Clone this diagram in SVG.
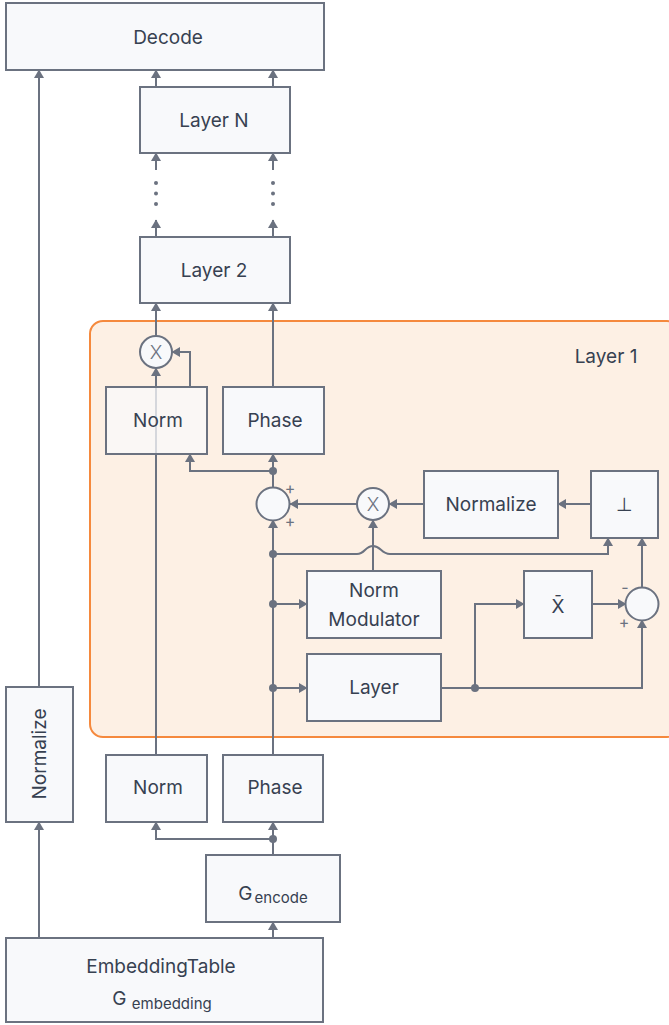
<svg xmlns="http://www.w3.org/2000/svg" width="669" height="1025" viewBox="0 0 669 1025">
<defs>
<marker id="arr" markerUnits="userSpaceOnUse" markerWidth="10" markerHeight="10" refX="8" refY="5" orient="auto">
<path d="M0,0 L8.5,5 L0,10 z" fill="#6b7280"/>
</marker>
<style>
.box{fill:#f8f9fb;stroke:#6b7280;stroke-width:2}
.circ{fill:#f8f9fb;stroke:#6b7280;stroke-width:2}
.t{font-family:Inter,"Liberation Sans",sans-serif;font-size:19px;fill:#374151;text-anchor:middle;dominant-baseline:central}
.s{font-family:Inter,"Liberation Sans",sans-serif;font-size:16px;fill:#6b7280;text-anchor:middle;dominant-baseline:central}
.x{font-family:Inter,"Liberation Sans",sans-serif;font-size:19px;font-weight:300;fill:#6b7280;text-anchor:middle;dominant-baseline:central}
.c{fill:none;stroke:#6b7280;stroke-width:2}
.a{marker-end:url(#arr)}
.dot{fill:#6b7280}
</style>
</defs>
<rect width="669" height="1025" fill="#ffffff"/>

<g id="layer1">
<rect x="90" y="321" width="590" height="416" rx="13" fill="#fdf0e4" stroke="#f5893d" stroke-width="2"/>
<text class="t" x="606" y="356">Layer 1</text>
</g>

<g id="connectors">
<path class="c a" d="M39,938 L39,822"/>
<path class="c a" d="M39,687 L39,70"/>
<path class="c a" d="M273,938 L273,922"/>
<path class="c a" d="M273,855 L273,822"/>
<path class="c a" d="M273,839 L156,839 L156,822"/>
<path class="c a" d="M156,755 L156,368"/>
<path class="c a" d="M273,755 L273,520"/>
<path class="c a" d="M273,688 L307,688"/>
<path class="c a" d="M273,604 L307,604"/>
<path class="c a" d="M273,554 L357,554 C365,554 365,546 373,546 C381,546 381,554 390,554 L608,554 L608,538"/>
<path class="c a" d="M373,571 L373,520"/>
<path class="c a" d="M441,688 L642,688 L642,620"/>
<path class="c a" d="M475,688 L475,604 L524,604"/>
<path class="c a" d="M592,604 L626,604"/>
<path class="c a" d="M642,588 L642,538"/>
<path class="c a" d="M591,504 L558,504"/>
<path class="c a" d="M424,504 L389,504"/>
<path class="c a" d="M357,504 L290,504"/>
<path class="c a" d="M273,487 L273,454"/>
<path class="c a" d="M273,471 L190,471 L190,454"/>
<path class="c a" d="M190,387 L190,352 L172,352"/>
<path class="c a" d="M156,336 L156,303"/>
<path class="c a" d="M273,387 L273,303"/>
<path class="c a" d="M156,237 L156,220"/>
<path class="c a" d="M273,237 L273,220"/>
<path class="c a" d="M156,170 L156,153"/>
<path class="c a" d="M273,170 L273,153"/>
<path class="c a" d="M156,87 L156,70"/>
<path class="c a" d="M273,87 L273,70"/>
<circle class="dot" cx="273" cy="839" r="4"/>
<circle class="dot" cx="273" cy="688" r="4"/>
<circle class="dot" cx="273" cy="604" r="4"/>
<circle class="dot" cx="273" cy="554" r="4"/>
<circle class="dot" cx="273" cy="471" r="4"/>
<circle class="dot" cx="475" cy="688" r="4"/>
<circle class="dot" cx="156" cy="183" r="2"/>
<circle class="dot" cx="156" cy="193.5" r="2"/>
<circle class="dot" cx="156" cy="204" r="2"/>
<circle class="dot" cx="273" cy="183" r="2"/>
<circle class="dot" cx="273" cy="193.5" r="2"/>
<circle class="dot" cx="273" cy="204" r="2"/>
</g>

<g id="decode"><rect class="box" x="6" y="3" width="318" height="67"/><text class="t" x="168" y="37">Decode</text></g>
<g id="layerN"><rect class="box" x="140" y="87" width="150" height="66"/><text class="t" x="214" y="120">Layer N</text></g>
<g id="layer2"><rect class="box" x="140" y="237" width="150" height="66"/><text class="t" x="214" y="270">Layer 2</text></g>

<g id="mul-top"><circle class="circ" cx="156" cy="352" r="16"/><text class="x" x="156" y="352">X</text></g>
<g id="norm-top"><rect class="box" x="106" y="387" width="101" height="67" fill-opacity="0.75"/><text class="t" x="158" y="420">Norm</text></g>
<g id="phase-top"><rect class="box" x="223" y="387" width="101" height="67"/><text class="t" x="275" y="420">Phase</text></g>

<g id="sum-top"><circle class="circ" cx="273" cy="504" r="16.5"/><text class="s" x="290" y="488">+</text><text class="s" x="290" y="521">+</text></g>
<g id="mul-mid"><circle class="circ" cx="373" cy="504" r="16"/><text class="x" x="373" y="504">X</text></g>
<g id="normalize-inner"><rect class="box" x="424" y="471" width="134" height="67"/><text class="t" x="491" y="504">Normalize</text></g>
<g id="perp"><rect class="box" x="591" y="471" width="67" height="67"/><text class="t" x="624" y="504">⊥</text></g>
<g id="norm-modulator"><rect class="box" x="307" y="571" width="134" height="67"/><text class="t" x="374" y="590">Norm</text><text class="t" x="374" y="619">Modulator</text></g>
<g id="xbar"><rect class="box" x="524" y="571" width="68" height="67"/><text class="t" x="558" y="606">X̄</text></g>
<g id="sum-right"><circle class="circ" cx="642" cy="604" r="16.5"/><text class="s" x="625" y="587">-</text><text class="s" x="624" y="622">+</text></g>
<g id="layer"><rect class="box" x="307" y="654" width="134" height="67"/><text class="t" x="374" y="687">Layer</text></g>

<g id="norm-bottom"><rect class="box" x="106" y="755" width="101" height="67"/><text class="t" x="158" y="787">Norm</text></g>
<g id="phase-bottom"><rect class="box" x="223" y="755" width="100" height="67"/><text class="t" x="275" y="787">Phase</text></g>
<g id="normalize-left"><rect class="box" x="6" y="687" width="67" height="135"/><text class="t" x="39" y="754" transform="rotate(-90 39 754)">Normalize</text></g>
<g id="g-encode"><rect class="box" x="206" y="855" width="134" height="67"/><text class="t" x="273" y="886" dominant-baseline="auto" dy="7" font-size="21">G<tspan font-size="15" dx="2" dy="4">encode</tspan></text></g>
<g id="embedding"><rect class="box" x="6" y="938" width="317" height="84"/><text class="t" x="161" y="966">EmbeddingTable</text><text class="t" x="162" y="998" dominant-baseline="auto" font-size="21">G <tspan font-size="15" dy="5">embedding</tspan></text></g>
</svg>
